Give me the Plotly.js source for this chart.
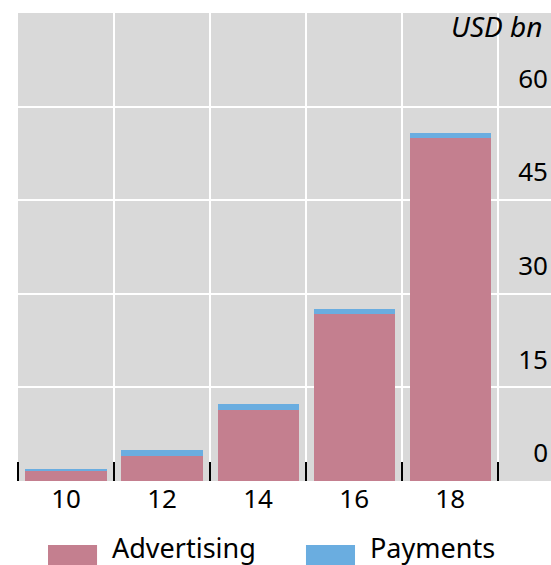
<!DOCTYPE html>
<html>
<head>
<meta charset="utf-8">
<script src="https://cdn.plot.ly/plotly-3.0.1.min.js"></script>
<style>
html,body{margin:0;padding:0;background:#fff;}
#chart{width:551px;height:565px;}
</style>
</head>
<body>
<div id="chart"></div>
<script>
const years = [10, 12, 14, 16, 18];
const tickLabels = ["10", "12", "14", "16", "18"];
const advertising = [1.65, 4.05, 11.3, 26.8, 55.0];
const payments = [0.22, 0.87, 1.0, 0.8, 0.85];
const yTicks = [0, 15, 30, 45, 60];
const seriesNames = ["Advertising", "Payments"];
const colors = ["#c47f8f", "#6aade0"];

const FONT = "Noto Sans, Open Sans, sans-serif";
const FS = 26;

const traces = [
  {type: "bar", name: seriesNames[0], x: years, y: advertising, width: 1.69,
   marker: {color: colors[0], line: {width: 0}}, hoverinfo: "skip"},
  {type: "bar", name: seriesNames[1], x: years, y: payments, width: 1.69,
   marker: {color: colors[1], line: {width: 0}}, hoverinfo: "skip"}
];

const legendShapes = [];
const legendAnn = [];
const legX = [0.0563, 0.5403];
seriesNames.forEach((n, i) => {
  legendShapes.push({type: "rect", xref: "paper", yref: "paper",
    x0: legX[i], x1: legX[i] + 0.092, y0: -0.1368, y1: -0.18,
    fillcolor: colors[i], line: {width: 0}});
  legendAnn.push({xref: "paper", yref: "paper", x: legX[i] + 0.117, y: -0.143,
    xanchor: "left", yanchor: "middle", showarrow: false, text: n,
    font: {family: FONT, size: 27, color: "#000"}});
});

const layout = {
  width: 551, height: 565,
  margin: {l: 18, r: 0, t: 13, b: 84, pad: 0},
  paper_bgcolor: "#ffffff",
  plot_bgcolor: "#d9d9d9",
  barmode: "stack",
  showlegend: false,
  font: {family: FONT, size: FS, color: "#000"},
  xaxis: {
    type: "linear", range: [9, 20.1], fixedrange: true,
    tickmode: "array", tickvals: years, ticktext: tickLabels,
    ticks: "", showgrid: false, zeroline: false, showline: false,
    tickfont: {family: FONT, size: FS, color: "#000"},
    minor: {tickmode: "linear", tick0: 9, dtick: 2, ticks: "inside", ticklen: 19,
            tickwidth: 2, tickcolor: "#000", showgrid: true, gridcolor: "#ffffff", gridwidth: 2}
  },
  yaxis: {
    range: [0, 75], fixedrange: true, side: "right",
    tickmode: "array", tickvals: yTicks, ticktext: yTicks.map(String),
    ticklabelposition: "inside", ticklabelshift: -28, ticklabelstandoff: 0,
    ticks: "", showgrid: true, gridcolor: "#ffffff", gridwidth: 2,
    zeroline: false, showline: false,
    tickfont: {family: FONT, size: FS, color: "#000"}
  },
  shapes: legendShapes,
  annotations: [
    {xref: "paper", yref: "paper", x: 0.987, y: 0.972, xanchor: "right", yanchor: "middle",
     showarrow: false, text: "<i>USD bn</i>", font: {family: FONT, size: 28, color: "#000"}}
  ].concat(legendAnn)
};

Plotly.newPlot("chart", traces, layout, {staticPlot: true, displayModeBar: false});
</script>
</body>
</html>
